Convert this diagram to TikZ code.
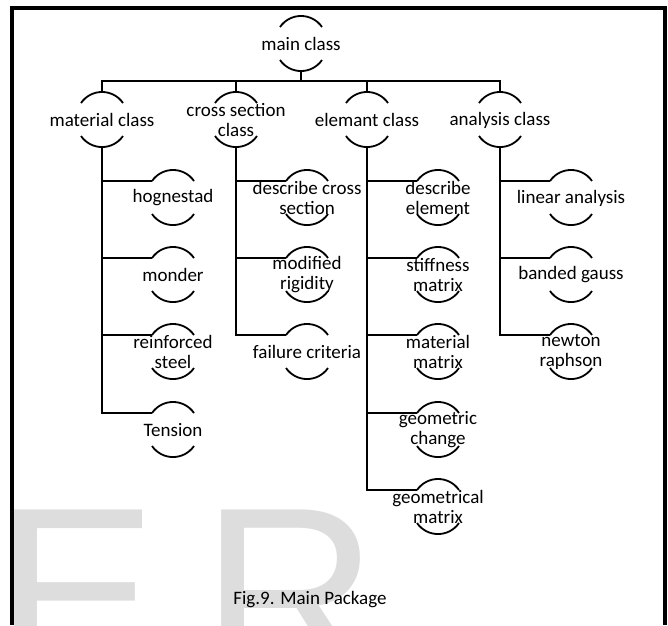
\documentclass[tikz,border=0pt]{standalone}
\usepackage{fontspec}
\setmainfont{Carlito}
\newfontfamily\wmfont{Liberation Sans}
\definecolor{wmgray}{RGB}{221,221,221}
\tikzset{
  lbl/.style={font=\fontsize{19}{20}\selectfont, align=center, inner sep=0pt},
  arcline/.style={line width=1.8pt},
  conn/.style={line width=2.6pt},
  frameline/.style={line width=4pt},
  wm/.style={font=\wmfont\fontsize{245}{245}\selectfont, text=wmgray, anchor=base west, inner sep=0pt},
  captxt/.style={font=\fontsize{19}{20}\selectfont, inner sep=0pt}
}
\newcommand{\pkgnode}[3]{%
  \node[lbl] (#1) at (#2) {#3};
  \draw[arcline] ([shift={(-21,-17)}]#1.center) .. controls ([shift={(-10.7,-31.7)}]#1.center) and ([shift={(10.7,-31.7)}]#1.center) .. ([shift={(21,-17)}]#1.center);
  \draw[arcline] ([shift={(-21,16)}]#1.center) .. controls ([shift={(-10.7,30.7)}]#1.center) and ([shift={(10.7,30.7)}]#1.center) .. ([shift={(21,16)}]#1.center);
  \coordinate (#1-l) at ([shift={(-21,-17)}]#1.center);
  \coordinate (#1-t) at ([shift={(0,-28)}]#1.center);
  \coordinate (#1-b) at ([shift={(0,27)}]#1.center);
}
\begin{document}
\begin{tikzpicture}[x=1pt,y=-1pt]
\useasboundingbox (0,0) rectangle (668,625);
\fill[white] (0,0) rectangle (668,625);
% watermark
\begin{scope}
\clip (0,0) rectangle (668,625);
\node[wm] (wmE) at (-6,678) {E};
\node[wm] (wmR) at (201,678) {R};
\end{scope}
% frame
\draw[frameline] (12,625) -- (12,8) -- (664.5,8) -- (664.5,625);
% nodes
\pkgnode{main}{301,44}{main class}
\pkgnode{mat}{102,120}{material class}
\pkgnode{cross}{236,120}{cross section\\class}
\pkgnode{elem}{367,120}{elemant class}
\pkgnode{anal}{500,120}{analysis class}
% material children
\pkgnode{hog}{173,198}{hognestad}
\pkgnode{mon}{173,275}{monder}
\pkgnode{rst}{173,352}{reinforced\\steel}
\pkgnode{ten}{173,430}{Tension}
% cross section children
\pkgnode{dcs}{307,198}{describe cross\\section}
\pkgnode{mrg}{307,275}{modified\\rigidity}
\pkgnode{fcr}{307,352}{failure criteria}
% element children
\pkgnode{del}{438,198}{describe\\element}
\pkgnode{stm}{438,275}{stiffness\\matrix}
\pkgnode{mtm}{438,352}{material\\matrix}
\pkgnode{gch}{438,430}{geometric\\change}
\pkgnode{gmm}{438,507}{geometrical\\matrix}
% analysis children
\pkgnode{lin}{571,198}{linear analysis}
\pkgnode{bgs}{571,275}{banded gauss}
\pkgnode{nrp}{571,352}{newton\\raphson}
% connectors
\coordinate (bus) at ([shift={(0,10)}]main-b);
\draw[conn] (main-b) -- (bus);
\foreach \n in {mat,cross,elem,anal} \draw[conn] (bus) -| (\n-t);
\foreach \c in {hog,mon,rst,ten} \draw[conn] (mat-b) |- (\c-l);
\foreach \c in {dcs,mrg,fcr} \draw[conn] (cross-b) |- (\c-l);
\foreach \c in {del,stm,mtm,gch,gmm} \draw[conn] (elem-b) |- (\c-l);
\foreach \c in {lin,bgs,nrp} \draw[conn] (anal-b) |- (\c-l);
% caption
\node[captxt] (cap) at (310,600) {Fig.9. Main Package};
\end{tikzpicture}
\end{document}
